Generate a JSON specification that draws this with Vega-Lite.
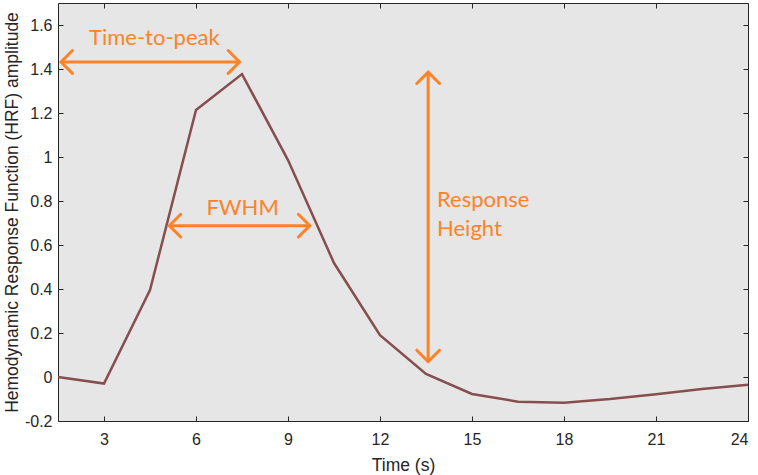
{
  "$schema": "https://vega.github.io/schema/vega-lite/v6.json",
  "width": 690,
  "height": 418,
  "autosize": "none",
  "padding": {"left": 58, "top": 3, "right": 10, "bottom": 54},
  "background": "#ffffff",
  "config": {
    "view": {"fill": "#E6E6E6", "stroke": "#262626", "strokeWidth": 1},
    "axis": {
      "grid": false,
      "domainColor": "#262626",
      "tickColor": "#262626",
      "labelColor": "#262626",
      "titleColor": "#262626",
      "labelFont": "Liberation Sans",
      "titleFont": "Liberation Sans",
      "labelFontSize": 16,
      "titleFontSize": 17.5,
      "titleFontWeight": "normal",
      "tickSize": -5,
      "labelExpr": "datum.value + ''"
    }
  },
  "datasets": {
    "hrf": [
      {"t": 1.5, "v": 0.0},
      {"t": 3, "v": -0.03},
      {"t": 4.5, "v": 0.395},
      {"t": 6, "v": 1.214},
      {"t": 7.5, "v": 1.377},
      {"t": 9, "v": 0.986},
      {"t": 10.5, "v": 0.518},
      {"t": 12, "v": 0.19},
      {"t": 13.5, "v": 0.014},
      {"t": 15, "v": -0.077},
      {"t": 16.5, "v": -0.112},
      {"t": 18, "v": -0.117},
      {"t": 19.5, "v": -0.10},
      {"t": 21, "v": -0.078},
      {"t": 22.5, "v": -0.055},
      {"t": 24, "v": -0.035}
    ],
    "arrows": [
      {"x": 1.6, "x2": 7.42, "y": 1.432, "y2": 1.432},
      {"x": 5.13, "x2": 9.71, "y": 0.688, "y2": 0.688},
      {"x": 13.57, "x2": 13.57, "y": 1.386, "y2": 0.07}
    ],
    "heads": [
      {"x": 1.6, "y": 1.432, "a": 180},
      {"x": 7.42, "y": 1.432, "a": 0},
      {"x": 5.13, "y": 0.688, "a": 180},
      {"x": 9.71, "y": 0.688, "a": 0},
      {"x": 13.57, "y": 1.386, "a": 270},
      {"x": 13.57, "y": 0.07, "a": 90}
    ],
    "labelsCenter": [
      {"x": 4.64, "y": 1.54, "text": "Time-to-peak"},
      {"x": 7.52, "y": 0.77, "text": "FWHM"}
    ],
    "labelsLeft": [
      {"x": 13.86, "y": 0.805, "text": "Response"},
      {"x": 13.86, "y": 0.673, "text": "Height"}
    ]
  },
  "layer": [
    {
      "data": {"name": "hrf"},
      "mark": {"type": "line", "color": "#874E4E", "strokeWidth": 2.5},
      "encoding": {
        "x": {
          "field": "t", "type": "quantitative",
          "scale": {"domain": [1.5, 24], "nice": false, "zero": false},
          "axis": {"values": [3, 6, 9, 12, 15, 18, 21, 24], "title": "Time (s)", "labelPadding": 15, "titlePadding": 9, "domain": false}
        },
        "y": {
          "field": "v", "type": "quantitative",
          "scale": {"domain": [-0.2, 1.7], "nice": false, "zero": false},
          "axis": {"values": [-0.2, 0, 0.2, 0.4, 0.6, 0.8, 1, 1.2, 1.4, 1.6], "title": "Hemodynamic Response Function (HRF) amplitude", "labelPadding": 11, "titlePadding": 3, "domain": false}
        }
      }
    },
    {
      "data": {"name": "hrf"},
      "mark": {"type": "line", "opacity": 0},
      "encoding": {
        "x": {"field": "t", "type": "quantitative", "axis": {"orient": "top", "values": [3, 6, 9, 12, 15, 18, 21, 24], "labels": false, "title": null, "domain": false}},
        "y": {"field": "v", "type": "quantitative", "axis": {"orient": "right", "values": [-0.2, 0, 0.2, 0.4, 0.6, 0.8, 1, 1.2, 1.4, 1.6], "labels": false, "title": null, "domain": false}}
      }
    },
    {
      "data": {"name": "arrows"},
      "mark": {"type": "rule", "color": "#FF8226", "strokeWidth": 3},
      "encoding": {
        "x": {"field": "x", "type": "quantitative", "axis": null},
        "x2": {"field": "x2"},
        "y": {"field": "y", "type": "quantitative", "axis": null},
        "y2": {"field": "y2"}
      }
    },
    {
      "data": {"name": "heads"},
      "mark": {"type": "point", "shape": "M-1,-1L0,0L-1,1", "filled": false, "stroke": "#FF8226", "strokeWidth": 3, "size": 520, "opacity": 1, "strokeCap": "round"},
      "encoding": {
        "x": {"field": "x", "type": "quantitative", "axis": null},
        "y": {"field": "y", "type": "quantitative", "axis": null},
        "angle": {"field": "a", "type": "quantitative", "scale": null}
      }
    },
    {
      "data": {"name": "labelsCenter"},
      "mark": {"type": "text", "color": "#FF8226", "font": "Lato", "fontSize": 22, "baseline": "middle", "align": "center"},
      "encoding": {
        "x": {"field": "x", "type": "quantitative", "axis": null},
        "y": {"field": "y", "type": "quantitative", "axis": null},
        "text": {"field": "text"}
      }
    },
    {
      "data": {"name": "labelsLeft"},
      "mark": {"type": "text", "color": "#FF8226", "font": "Lato", "fontSize": 22, "baseline": "middle", "align": "left"},
      "encoding": {
        "x": {"field": "x", "type": "quantitative", "axis": null},
        "y": {"field": "y", "type": "quantitative", "axis": null},
        "text": {"field": "text"}
      }
    }
  ],
  "resolve": {"axis": {"x": "independent", "y": "independent"}}
}
